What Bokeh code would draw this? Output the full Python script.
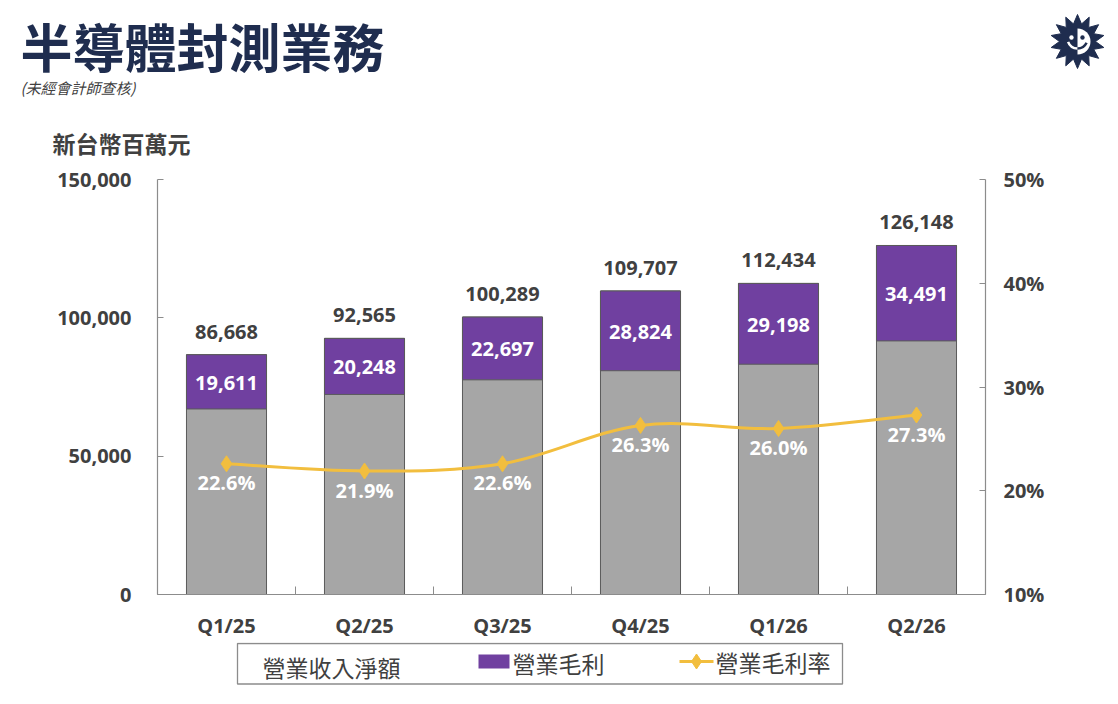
import numpy as np
from bokeh.plotting import figure
from bokeh.models import (Range1d, LinearAxis, FixedTicker, NumeralTickFormatter,
                          PrintfTickFormatter, ColumnDataSource)
from bokeh.layouts import column
from bokeh.embed import file_html
from bokeh.resources import INLINE
from bokeh.core.properties import value

# ---------------- data ----------------
categories = ["Q1/25", "Q2/25", "Q3/25", "Q4/25", "Q1/26", "Q2/26"]
revenue = [86668, 92565, 100289, 109707, 112434, 126148]        # 營業收入淨額
gross_profit = [19611, 20248, 22697, 28824, 29198, 34491]       # 營業毛利
gross_margin = [22.6, 21.9, 22.6, 26.3, 26.0, 27.3]             # 營業毛利率 (%)
left_ticks = [0, 50000, 100000, 150000]
right_ticks = [10, 20, 30, 40, 50]

title_text = "半導體封測業務"
subtitle_text = "(未經會計師查核)"
unit_text = "新台幣百萬元"
legend_labels = ["營業收入淨額", "營業毛利", "營業毛利率"]

# ---------------- style ----------------
GRAY = "#A6A6A6"
PURPLE = "#7040A0"
GOLD = "#F2BE3E"
NAVY = "#1F2D4F"
TXT = "#404040"
AXIS = "#8C8C8C"
EDGE = "#5A5A5A"
NUM_FONT = "Open Sans"
CJK = "Noto Sans CJK TC"
W = 1118


def blank(fig):
    fig.outline_line_color = None
    fig.xgrid.visible = False
    fig.ygrid.visible = False
    fig.background_fill_color = "white"
    fig.border_fill_color = "white"
    if "frame_align" in fig.properties():
        fig.frame_align = False


# ---------------- header figure (title, subtitle, unit, logo) ----------------
TH = 160
t = figure(width=W, height=TH, x_range=Range1d(0, W), y_range=Range1d(0, TH),
           x_axis_location=None, y_axis_location=None, toolbar_location=None,
           output_backend="svg", min_border=0)
blank(t)
t.text(x=[20], y=[115.5], text=[title_text], text_font=value(CJK), text_font_style="bold",
       text_font_size="52px", text_color=NAVY, text_align="left", text_baseline="middle")
t.text(x=[20], y=[73.5], text=[subtitle_text], text_font=value(CJK), text_font_style="italic",
       text_font_size="15px", text_color=TXT, text_align="left", text_baseline="middle")
t.text(x=[52], y=[17.5], text=[unit_text], text_font=value(CJK), text_font_style="bold",
       text_font_size="23px", text_color=TXT, text_align="left", text_baseline="middle")

# logo: sun / moon face
lcx, lcy = 1077, 119
K, R_out, R_in = 14, 27, 18
angs = [np.pi / 2 + k * np.pi / K for k in range(2 * K)]
sx = [lcx + (R_out if k % 2 == 0 else R_in) * np.cos(a) for k, a in enumerate(angs)]
sy = [lcy + (R_out if k % 2 == 0 else R_in) * np.sin(a) for k, a in enumerate(angs)]
t.patch(sx, sy, fill_color=NAVY, line_color=NAVY)
t.wedge(x=[lcx], y=[lcy], radius=13, start_angle=-np.pi / 2, end_angle=np.pi / 2,
        fill_color="white", line_color=None)
t.circle(x=[lcx - 6], y=[lcy + 4], radius=2.2, fill_color="white", line_color=None)
t.circle(x=[lcx + 5], y=[lcy + 4], radius=2.2, fill_color=NAVY, line_color=None)
t.arc(x=[lcx], y=[lcy + 3], radius=10, start_angle=np.radians(200), end_angle=np.radians(270),
      line_color="white", line_width=2.5)
t.arc(x=[lcx], y=[lcy + 3], radius=10, start_angle=np.radians(270), end_angle=np.radians(335),
      line_color=NAVY, line_width=2.5)

# ---------------- main chart ----------------
n = len(categories)
xs = [i + 0.5 for i in range(n)]
src = ColumnDataSource(dict(
    x=xs,
    cat=categories,
    rev=revenue,
    gp=gross_profit,
    base=[r - g for r, g in zip(revenue, gross_profit)],
    mid=[r - g / 2 for r, g in zip(revenue, gross_profit)],
    gm=gross_margin,
    rev_lbl=[f"{v:,}" for v in revenue],
    gp_lbl=[f"{v:,}" for v in gross_profit],
    gm_lbl=[f"{v:.1f}%" for v in gross_margin],
))

MH = 482
p = figure(width=W, height=MH, x_range=Range1d(0, n), y_range=Range1d(0, left_ticks[-1]),
           x_axis_location=None, y_axis_location=None, toolbar_location=None,
           output_backend="svg",
           min_border_left=157, min_border_right=133, min_border_top=19, min_border_bottom=48)
p.extra_y_ranges = {"pct": Range1d(right_ticks[0], right_ticks[-1])}
blank(p)


def style_axis(ax):
    ax.axis_line_color = AXIS
    ax.axis_line_width = 1.2
    ax.major_tick_line_color = AXIS
    ax.minor_tick_line_color = AXIS
    ax.major_label_text_font = NUM_FONT
    ax.major_label_text_font_size = "20px"
    ax.major_label_text_font_style = "bold"
    ax.major_label_text_color = TXT


xaxis = LinearAxis(ticker=FixedTicker(ticks=xs, minor_ticks=list(range(n + 1))),
                   major_label_overrides={xv: c for xv, c in zip(xs, categories)})
style_axis(xaxis)
xaxis.major_tick_in = 0
xaxis.major_tick_out = 0
xaxis.minor_tick_in = 8
xaxis.minor_tick_out = 0
xaxis.major_label_standoff = 17
p.add_layout(xaxis, "below")

yaxis = LinearAxis(ticker=FixedTicker(ticks=left_ticks), formatter=NumeralTickFormatter(format="0,0"))
style_axis(yaxis)
yaxis.major_tick_in = 6
yaxis.major_tick_out = 0
yaxis.minor_tick_in = 0
yaxis.minor_tick_out = 0
yaxis.major_label_standoff = 26
p.add_layout(yaxis, "left")

raxis = LinearAxis(y_range_name="pct", ticker=FixedTicker(ticks=right_ticks),
                   formatter=PrintfTickFormatter(format="%d%%"))
style_axis(raxis)
raxis.major_tick_in = 6
raxis.major_tick_out = 0
raxis.minor_tick_in = 0
raxis.minor_tick_out = 0
raxis.major_label_standoff = 18
p.add_layout(raxis, "right")

BW = 0.58
p.vbar(x="x", width=BW, bottom=0, top="rev", fill_color=GRAY, line_color=EDGE,
       line_width=1, source=src)
p.vbar(x="x", width=BW, bottom="base", top="rev", fill_color=PURPLE, line_color=EDGE,
       line_width=1, source=src)

# smoothed margin line (Catmull-Rom -> cubic bezier between data points)
def pt(i):
    i = max(0, min(n - 1, i))
    return xs[i], gross_margin[i]

bx0, by0, bx1, by1, c0x, c0y, c1x, c1y = ([] for _ in range(8))
for i in range(n - 1):
    x0, y0 = pt(i)
    x1, y1 = pt(i + 1)
    xm, ym = pt(i - 1)
    xp, yp = pt(i + 2)
    bx0.append(x0); by0.append(y0); bx1.append(x1); by1.append(y1)
    c0x.append(x0 + (x1 - xm) / 6); c0y.append(y0 + (y1 - ym) / 6)
    c1x.append(x1 - (xp - x0) / 6); c1y.append(y1 - (yp - y0) / 6)
p.bezier(x0=bx0, y0=by0, x1=bx1, y1=by1, cx0=c0x, cy0=c0y, cx1=c1x, cy1=c1y,
         line_color=GOLD, line_width=3, y_range_name="pct")
p.scatter(x="x", y="gm", marker="diamond", size=16, fill_color=GOLD, line_color=GOLD,
          y_range_name="pct", source=src)

common = dict(text_align="center", text_baseline="middle", text_font=value(NUM_FONT),
              text_font_style="bold", text_font_size="20px", source=src)
p.text(x="x", y="rev", text="rev_lbl", y_offset=-23, text_color=TXT, **common)
p.text(x="x", y="mid", text="gp_lbl", y_offset=1, text_color="white", **common)
p.text(x="x", y="gm", text="gm_lbl", y_offset=19, text_color="white",
       y_range_name="pct", **common)

# ---------------- legend strip ----------------
LH = 704 - TH - MH
lg = figure(width=W, height=LH, x_range=Range1d(0, W), y_range=Range1d(0, LH),
            x_axis_location=None, y_axis_location=None, toolbar_location=None,
            output_backend="svg", min_border=0)
blank(lg)
lg.quad(left=[237], right=[842], top=[61], bottom=[20.5], fill_color=None,
        line_color=AXIS, line_width=1.3)
leg_txt = dict(text_font=value(CJK), text_font_size="23px", text_color=TXT,
               text_align="left", text_baseline="middle")
lg.text(x=[262], y=[38], text=[legend_labels[0]], **leg_txt)
lg.quad(left=[478], right=[509], top=[50], bottom=[36], fill_color=PURPLE, line_color=None)
lg.text(x=[512], y=[42], text=[legend_labels[1]], **leg_txt)
lg.line(x=[679, 713], y=[43, 43], line_color=GOLD, line_width=3)
lg.scatter(x=[696], y=[43], marker="diamond", size=15, fill_color=GOLD, line_color=GOLD)
lg.text(x=[715], y=[43], text=[legend_labels[2]], **leg_txt)

layout = column(t, p, lg, spacing=0)
open("out.html", "w").write(file_html(layout, INLINE))
